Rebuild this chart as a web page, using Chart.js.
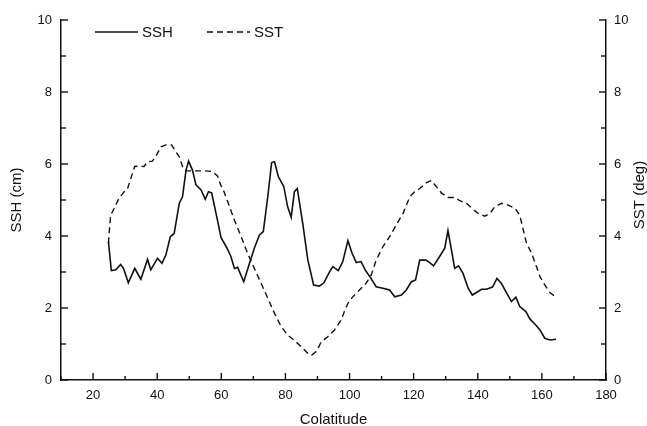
<!DOCTYPE html>
<html>
<head>
<meta charset="utf-8">
<script src="https://cdn.jsdelivr.net/npm/chart.js@4"></script>
<style>
  body { margin: 0; background: #fff; }
</style>
</head>
<body>
<canvas id="chart" width="647" height="426"></canvas>
<script>
// colatitude (deg) and SSH (cm)
const sshLat = [24.8, 25.7, 27.1, 28.6, 29.5, 31.0, 33.0, 34.9, 37.0, 38.0, 40.1, 41.5, 42.7, 44.1, 45.3, 46.9, 47.9, 49.0, 49.8, 51.0,
  52.1, 53.7, 55.0, 56.0, 57.0, 58.8, 59.9, 61.8, 63.0, 64.1, 65.1, 67.0, 68.8, 70.3, 71.9, 73.1, 74.5, 75.7, 76.6, 77.8,
  79.5, 80.7, 81.8, 82.8, 83.7, 85.4, 87.0, 88.8, 90.6, 92.0, 93.8, 94.8, 96.5, 97.9, 99.5, 100.8, 102.1, 103.6, 105.0, 106.5,
  108.3, 110.4, 112.5, 114.1, 116.2, 117.7, 119.3, 120.6, 121.9, 123.8, 125.0, 126.2, 128.1, 129.7, 130.7, 131.8, 132.8, 134.0, 135.4, 137.0,
  138.3, 139.6, 141.2, 142.7, 144.6, 146.0, 147.4, 148.8, 150.5, 151.9, 153.1, 155.0, 156.3, 158.1, 159.4, 160.9, 162.5, 164.4];
const sshVal = [3.84, 3.04, 3.06, 3.21, 3.10, 2.70, 3.10, 2.80, 3.35, 3.06, 3.38, 3.24, 3.47, 3.98, 4.07, 4.91, 5.09, 5.83, 6.08, 5.83,
  5.42, 5.28, 5.02, 5.23, 5.20, 4.44, 3.96, 3.66, 3.43, 3.10, 3.13, 2.73, 3.24, 3.66, 4.03, 4.12, 5.09, 6.04, 6.06, 5.65,
  5.37, 4.81, 4.52, 5.23, 5.32, 4.35, 3.33, 2.64, 2.61, 2.70, 3.01, 3.15, 3.04, 3.29, 3.87, 3.52, 3.26, 3.29, 3.04, 2.85,
  2.59, 2.55, 2.50, 2.31, 2.36, 2.50, 2.73, 2.78, 3.33, 3.33, 3.26, 3.17, 3.43, 3.66, 4.15, 3.61, 3.10, 3.17, 2.96, 2.55,
  2.36, 2.43, 2.52, 2.52, 2.58, 2.82, 2.68, 2.45, 2.18, 2.30, 2.04, 1.90, 1.69, 1.53, 1.39, 1.16, 1.11, 1.13];

// colatitude (deg) and SST (deg)
const sstLat = [24.8, 25.0, 25.5, 26.6, 28.1, 29.7, 30.7, 31.8, 33.0, 34.4, 35.9, 37.0, 38.5, 39.6, 41.2, 42.7, 44.5, 45.8, 46.9, 47.9,
  49.0, 51.6, 54.7, 57.3, 58.8, 59.9, 60.9, 62.0, 64.1, 66.2, 68.2, 70.3, 72.4, 74.5, 76.6, 78.7, 80.7, 83.3, 85.4, 87.0,
  88.2, 89.6, 91.2, 93.2, 95.3, 97.4, 98.4, 99.5, 101.0, 103.1, 105.2, 106.8, 108.3, 110.4, 112.5, 114.6, 116.7, 118.8, 120.3, 121.9,
  124.0, 125.5, 127.1, 128.7, 130.7, 132.8, 134.4, 136.5, 138.5, 140.1, 142.2, 143.8, 145.3, 147.4, 149.5, 151.6, 153.1, 154.2, 155.2, 156.8,
  158.3, 159.4, 160.9, 162.5, 164.4];
const sstVal = [3.80, 4.07, 4.58, 4.77, 5.05, 5.23, 5.30, 5.60, 5.93, 5.94, 5.93, 6.06, 6.08, 6.22, 6.48, 6.53, 6.53, 6.34, 6.20, 5.93,
  5.81, 5.81, 5.81, 5.79, 5.67, 5.40, 5.22, 4.95, 4.44, 3.98, 3.52, 3.10, 2.69, 2.27, 1.85, 1.48, 1.25, 1.06, 0.88, 0.74,
  0.69, 0.79, 1.06, 1.20, 1.39, 1.67, 1.90, 2.13, 2.31, 2.50, 2.69, 2.92, 3.33, 3.70, 3.98, 4.31, 4.63, 5.09, 5.23, 5.32,
  5.48, 5.54, 5.37, 5.19, 5.07, 5.07, 4.98, 4.91, 4.74, 4.63, 4.55, 4.63, 4.81, 4.91, 4.86, 4.77, 4.58, 4.17, 3.80, 3.52,
  3.15, 2.87, 2.64, 2.43, 2.30];

const xRange = [10, 180];
const yRange = [0, 10];
const seriesNames = ["SSH", "SST"];
const axisTitles = { x: "Colatitude", y: "SSH (cm)", y1: "SST (deg)" };

const FONT = "'Liberation Sans', Arial, Helvetica, sans-serif";
const INK = "#111";

function toPoints(xs, ys) {
  return xs.map((x, i) => ({ x: x, y: ys[i] }));
}

// inward tick marks, a hand-drawn legend and the right axis title
const paperPlugin = {
  id: "paper",
  afterDraw(chart) {
    const ctx = chart.ctx;
    const area = chart.chartArea;
    ctx.save();
    ctx.strokeStyle = INK;
    ctx.lineWidth = 1.4;

    const xs = chart.scales.x;
    xs.ticks.forEach(t => {
      const px = xs.getPixelForValue(t.value);
      const len = t.value % 20 === 0 ? 7 : 4;
      ctx.beginPath();
      ctx.moveTo(px, area.bottom);
      ctx.lineTo(px, area.bottom - len);
      ctx.stroke();
    });
    ["y", "y1"].forEach(id => {
      const s = chart.scales[id];
      const edge = id === "y" ? area.left : area.right;
      const dir = id === "y" ? 1 : -1;
      s.ticks.forEach(t => {
        const py = s.getPixelForValue(t.value);
        const len = t.value % 2 === 0 ? 7 : 5;
        ctx.beginPath();
        ctx.moveTo(edge, py);
        ctx.lineTo(edge + dir * len, py);
        ctx.stroke();
      });
    });

    // legend
    const legendX = [95, 207];
    const legendY = 32;
    ctx.font = "15px " + FONT;
    ctx.fillStyle = INK;
    ctx.textBaseline = "middle";
    chart.data.datasets.forEach((ds, i) => {
      ctx.beginPath();
      ctx.lineWidth = ds.borderWidth;
      ctx.setLineDash(ds.borderDash || []);
      ctx.moveTo(legendX[i], legendY);
      ctx.lineTo(legendX[i] + 43, legendY);
      ctx.stroke();
      ctx.setLineDash([]);
      ctx.fillText(ds.label, legendX[i] + 47, legendY + 1);
    });

    // right axis title, reading bottom to top like the left one
    ctx.translate(640, (area.top + area.bottom) / 2 - 5);
    ctx.rotate(-Math.PI / 2);
    ctx.textAlign = "center";
    ctx.fillText(axisTitles.y1, 0, 0);
    ctx.restore();
  }
};

const tickFont = { family: FONT, size: 13 };
const titleFont = { family: FONT, size: 15 };

new Chart(document.getElementById("chart"), {
  type: "line",
  data: {
    datasets: [
      {
        label: seriesNames[0],
        data: toPoints(sshLat, sshVal),
        yAxisID: "y",
        borderColor: INK,
        borderWidth: 1.6,
        pointRadius: 0,
        tension: 0,
        fill: false
      },
      {
        label: seriesNames[1],
        data: toPoints(sstLat, sstVal),
        yAxisID: "y1",
        borderColor: INK,
        borderWidth: 1.4,
        borderDash: [6, 4],
        pointRadius: 0,
        tension: 0,
        fill: false
      }
    ]
  },
  options: {
    responsive: false,
    animation: false,
    layout: { padding: { top: 20, left: 0, right: 0, bottom: 0 } },
    plugins: { legend: { display: false }, tooltip: { enabled: false } },
    scales: {
      x: {
        type: "linear",
        min: xRange[0],
        max: xRange[1],
        afterFit: s => { s.height = 46; },
        ticks: {
          stepSize: 10,
          autoSkip: false,
          maxRotation: 0,
          padding: 8,
          color: INK,
          font: tickFont,
          callback: v => (v % 20 === 0 ? v : "")
        },
        grid: { drawOnChartArea: false, drawTicks: false },
        border: { color: INK, width: 1.5 },
        title: {
          display: true,
          text: axisTitles.x,
          color: INK,
          font: Object.assign({ lineHeight: 0.8 }, titleFont),
          padding: { top: 0, bottom: 0 }
        }
      },
      y: {
        position: "left",
        min: yRange[0],
        max: yRange[1],
        afterFit: s => { s.width = 61; },
        ticks: {
          stepSize: 1,
          padding: 9,
          color: INK,
          font: tickFont,
          callback: v => (v % 2 === 0 ? v : "")
        },
        grid: { drawOnChartArea: false, drawTicks: false },
        border: { color: INK, width: 1.5 },
        title: {
          display: true,
          text: axisTitles.y,
          color: INK,
          font: titleFont,
          padding: { top: 8, bottom: 0 }
        }
      },
      y1: {
        position: "right",
        min: yRange[0],
        max: yRange[1],
        afterFit: s => { s.width = 41; },
        ticks: {
          stepSize: 1,
          padding: 8,
          color: INK,
          font: tickFont,
          callback: v => (v % 2 === 0 ? v : "")
        },
        grid: { drawOnChartArea: false, drawTicks: false },
        border: { color: INK, width: 1.5 }
      }
    }
  },
  plugins: [paperPlugin]
});
</script>
</body>
</html>
